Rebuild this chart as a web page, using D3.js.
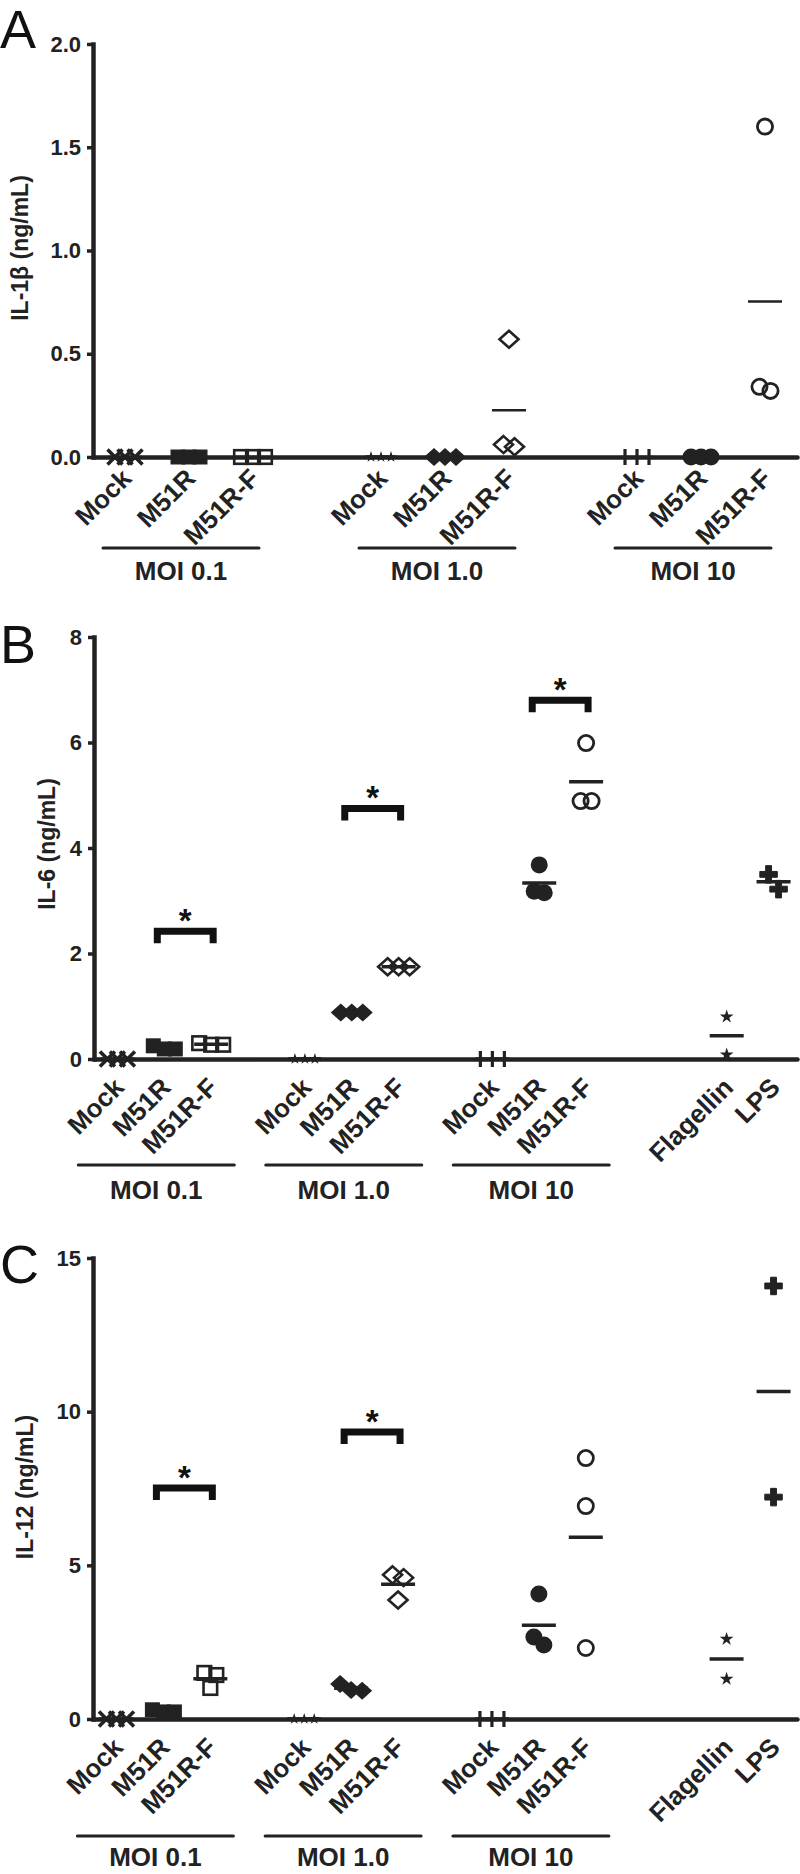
<!DOCTYPE html>
<html><head><meta charset="utf-8">
<script src="https://cdn.jsdelivr.net/npm/d3@7"></script>
<style>
body{margin:0;background:#fff}
svg{display:block}
text{font-family:"Liberation Sans",Arial,Helvetica,sans-serif;fill:#222}
</style>
</head><body>
<svg id="chart" width="800" height="1874"></svg>
<script>
// ---------- DATA ----------
const moiGroups = ["MOI 0.1", "MOI 1.0", "MOI 10"];
const viruses = ["Mock", "M51R", "M51R-F"];
const controls = ["Flagellin", "LPS"];

// IL-1β (ng/mL): one row per MOI group × virus (3 replicates)
const il1bValues = [
  [0, 0, 0], [0, 0, 0], [0, 0, 0],
  [0, 0, 0], [0, 0, 0], [0.57, 0.05, 0.06],
  [0, 0, 0], [0, 0, 0], [1.60, 0.32, 0.34]
];
const il1bTicks = [0, 0.5, 1.0, 1.5, 2.0];

// IL-6 (ng/mL)
const il6Values = [
  [0, 0, 0], [0.25, 0.19, 0.19], [0.30, 0.27, 0.27],
  [0, 0, 0], [0.88, 0.88, 0.88], [1.75, 1.75, 1.75],
  [0, 0, 0], [3.68, 3.15, 3.18], [5.99, 4.89, 4.89]
];
const il6Controls = [[0.80, 0.08], [3.50, 3.22]];
const il6Ticks = [0, 2, 4, 6, 8];
const il6Sig = [[0, 2.42], [1, 4.75], [2, 6.80]];   // [MOI group, bracket level]

// IL-12 (ng/mL)
const il12Values = [
  [0, 0, 0], [0.30, 0.23, 0.23], [1.50, 1.43, 1.01],
  [0, 0, 0], [1.14, 0.94, 0.92], [4.69, 4.60, 3.87],
  [0, 0, 0], [4.07, 2.67, 2.41], [8.49, 6.93, 2.31]
];
const il12Controls = [[2.60, 1.30], [14.09, 7.22]];
const il12Ticks = [0, 5, 10, 15];
const il12Sig = [[0, 7.52], [1, 9.34]];

// marker per MOI group × virus, and per control
const markerTypes = [
  ["x", "squareFill", "squareOpen"],
  ["starSmall", "diamondFill", "diamondOpen"],
  ["bar", "circleFill", "circleOpen"]
];
const controlMarkers = ["star", "cross"];

// ---------- LAYOUT ----------
const INK = "#222";
const panels = [
  {letter: "A", title: "IL-1β (ng/mL)", values: il1bValues, ctrl: null, ticks: il1bTicks,
   fmt: d3.format(".1f"), max: 2, sig: [], top: 44, bottom: 457, left: 93, right: 797,
   nSlots: 11, letterY: 48, titleX: 20, titleY: 248, catDy: 23, lineY: 548, labelY: 580, meanW: 2.5},
  {letter: "B", title: "IL-6 (ng/mL)", values: il6Values, ctrl: il6Controls, ticks: il6Ticks,
   fmt: d3.format("d"), max: 8, sig: il6Sig, top: 637, bottom: 1059, left: 94, right: 797,
   nSlots: 15, letterY: 663, titleX: 47, titleY: 844, catDy: 30, lineY: 1165, labelY: 1199, meanW: 3.5},
  {letter: "C", title: "IL-12 (ng/mL)", values: il12Values, ctrl: il12Controls, ticks: il12Ticks,
   fmt: d3.format("d"), max: 15, sig: il12Sig, top: 1258, bottom: 1719, left: 93, right: 797,
   nSlots: 15, letterY: 1283, titleX: 25, titleY: 1487, catDy: 30, lineY: 1836, labelY: 1866, meanW: 3.5}
];

// horizontal spread between overlapping points, and vertical overlap distance
const markerSpacing = {x: 10, squareFill: 11, squareOpen: 12, starSmall: 10, diamondFill: 11,
  diamondOpen: 11, bar: 12, circleFill: 10, circleOpen: 11, star: 12, cross: 10};
const markerOverlap = {cross: 17};

const svg = d3.select("#chart");

function drawMarker(g, type, cx, cy) {
  const t = `translate(${cx},${cy})`;
  switch (type) {
    case "x":
      g.append("path").attr("transform", t).attr("d", "M-7.5,-7.5L7.5,7.5M-7.5,7.5L7.5,-7.5")
        .attr("stroke", INK).attr("stroke-width", 3.6).attr("fill", "none"); break;
    case "squareFill":
      g.append("rect").attr("x", cx - 7.5).attr("y", cy - 7.5).attr("width", 15).attr("height", 15)
        .attr("fill", INK); break;
    case "squareOpen":
      g.append("rect").attr("x", cx - 6.8).attr("y", cy - 6.8).attr("width", 13.6).attr("height", 13.6)
        .attr("fill", "none").attr("stroke", INK).attr("stroke-width", 2.6); break;
    case "starSmall":
      g.append("path").attr("transform", t).attr("d", d3.symbol(d3.symbolStar, 40)())
        .attr("fill", INK); break;
    case "diamondFill":
      g.append("path").attr("transform", t).attr("d", "M0,-9L10,0L0,9L-10,0Z").attr("fill", INK); break;
    case "diamondOpen":
      g.append("path").attr("transform", t).attr("d", "M0,-8.5L9.5,0L0,8.5L-9.5,0Z")
        .attr("fill", "none").attr("stroke", INK).attr("stroke-width", 2.6); break;
    case "bar":
      g.append("path").attr("transform", t).attr("d", "M0,-8L0,8")
        .attr("stroke", INK).attr("stroke-width", 3.2); break;
    case "circleFill":
      g.append("circle").attr("cx", cx).attr("cy", cy).attr("r", 8.5).attr("fill", INK); break;
    case "circleOpen":
      g.append("circle").attr("cx", cx).attr("cy", cy).attr("r", 7.6)
        .attr("fill", "none").attr("stroke", INK).attr("stroke-width", 2.8); break;
    case "star":
      g.append("path").attr("transform", t).attr("d", d3.symbol(d3.symbolStar, 58)())
        .attr("fill", INK); break;
    case "cross":
      g.append("path").attr("transform", t).attr("d", d3.symbol(d3.symbolCross, 170)())
        .attr("fill", INK).attr("stroke", INK).attr("stroke-width", 1).attr("stroke-linejoin", "round"); break;
  }
}

// spread points that overlap vertically (scatter-dot style)
function jitter(vals, y, spacing, overlap) {
  const idx = vals.map((v, i) => i).sort((a, b) => vals[b] - vals[a]);
  const clusters = [];
  idx.forEach(i => {
    const last = clusters[clusters.length - 1];
    if (last && Math.abs(y(vals[last[last.length - 1]]) - y(vals[i])) < overlap) last.push(i);
    else clusters.push([i]);
  });
  const off = new Array(vals.length).fill(0);
  clusters.forEach(c => c.forEach((i, k) => { off[i] = (k - (c.length - 1) / 2) * spacing; }));
  return off;
}

panels.forEach(p => {
  const g = svg.append("g");
  const x = d3.scaleLinear().domain([-0.5, p.nSlots - 0.5]).range([p.left, p.right]);
  const y = d3.scaleLinear().domain([0, p.max]).range([p.bottom, p.top]);

  // build groups
  const groups = [];
  moiGroups.forEach((m, gi) => viruses.forEach((v, vi) => {
    groups.push({label: v, slot: gi * 4 + vi, vals: p.values[gi * 3 + vi], marker: markerTypes[gi][vi]});
  }));
  if (p.ctrl) controls.forEach((c, ci) => {
    groups.push({label: c, slot: moiGroups.length * 4 + 1 + ci, vals: p.ctrl[ci], marker: controlMarkers[ci]});
  });

  // axes
  const yAxis = d3.axisLeft(y).tickValues(p.ticks).tickFormat(p.fmt).tickSize(6).tickSizeOuter(0).tickPadding(6);
  const ya = g.append("g").attr("transform", `translate(${p.left},0)`).call(yAxis);
  ya.select(".domain").attr("stroke", INK).attr("stroke-width", 4.5).attr("stroke-linecap", "square");
  ya.selectAll(".tick line").attr("stroke", INK).attr("stroke-width", 3.5);
  ya.selectAll(".tick text").attr("font-size", 22).attr("font-weight", "bold").attr("fill", INK)
    .attr("font-family", '"Liberation Sans",Arial,sans-serif');

  const xAxis = d3.axisBottom(x).tickValues([]).tickSizeOuter(0);
  const xa = g.append("g").attr("transform", `translate(0,${p.bottom})`).call(xAxis);
  xa.select(".domain").attr("stroke", INK).attr("stroke-width", 4.5).attr("stroke-linecap", "round");

  // points
  groups.forEach(gr => {
    const off = jitter(gr.vals, y, markerSpacing[gr.marker], markerOverlap[gr.marker] || 12);
    gr.vals.forEach((v, i) => drawMarker(g, gr.marker, x(gr.slot) + off[i], y(v)));
  });

  // mean lines
  groups.forEach(gr => {
    const m = d3.mean(gr.vals);
    g.append("line").attr("x1", x(gr.slot) - 17).attr("x2", x(gr.slot) + 17)
      .attr("y1", y(m)).attr("y2", y(m)).attr("stroke", INK).attr("stroke-width", p.meanW);
  });

  // significance brackets
  p.sig.forEach(([gi, level]) => {
    const l = x(gi * 4 + 1) - 7, r = x(gi * 4 + 2) + 2, yy = y(level);
    g.append("path").attr("d", `M${l},${yy + 12}L${l},${yy}L${r},${yy}L${r},${yy + 12}`)
      .attr("fill", "none").attr("stroke", "#111").attr("stroke-width", 7).attr("stroke-linejoin", "miter");
    g.append("text").attr("x", (l + r) / 2).attr("y", yy + 1).attr("text-anchor", "middle")
      .attr("font-size", 33).attr("font-weight", "bold").style("fill", "#111").text("*");
  });

  // category labels
  groups.forEach(gr => {
    g.append("text")
      .attr("transform", `translate(${x(gr.slot) + 8},${p.bottom + p.catDy}) rotate(-45)`)
      .attr("text-anchor", "end").attr("font-size", 26).attr("font-weight", "bold").text(gr.label);
  });

  // MOI group lines and labels
  moiGroups.forEach((m, gi) => {
    const cx = x(gi * 4 + 1) - 8;
    g.append("line").attr("x1", cx - 78).attr("x2", cx + 78).attr("y1", p.lineY).attr("y2", p.lineY)
      .attr("stroke", INK).attr("stroke-width", 3).attr("stroke-linecap", "round");
    g.append("text").attr("x", cx).attr("y", p.labelY).attr("text-anchor", "middle")
      .attr("font-size", 26).attr("font-weight", "bold").text(m);
  });

  // y title
  g.append("text").attr("transform", `translate(${p.titleX},${p.titleY}) rotate(-90)`)
    .attr("text-anchor", "middle").attr("dominant-baseline", "central")
    .attr("font-size", 23).attr("font-weight", "bold").text(p.title);

  // panel letter
  g.append("text").attr("x", 0).attr("y", p.letterY).attr("font-size", 54).style("fill", "#111").text(p.letter);
});
</script>
</body></html>
